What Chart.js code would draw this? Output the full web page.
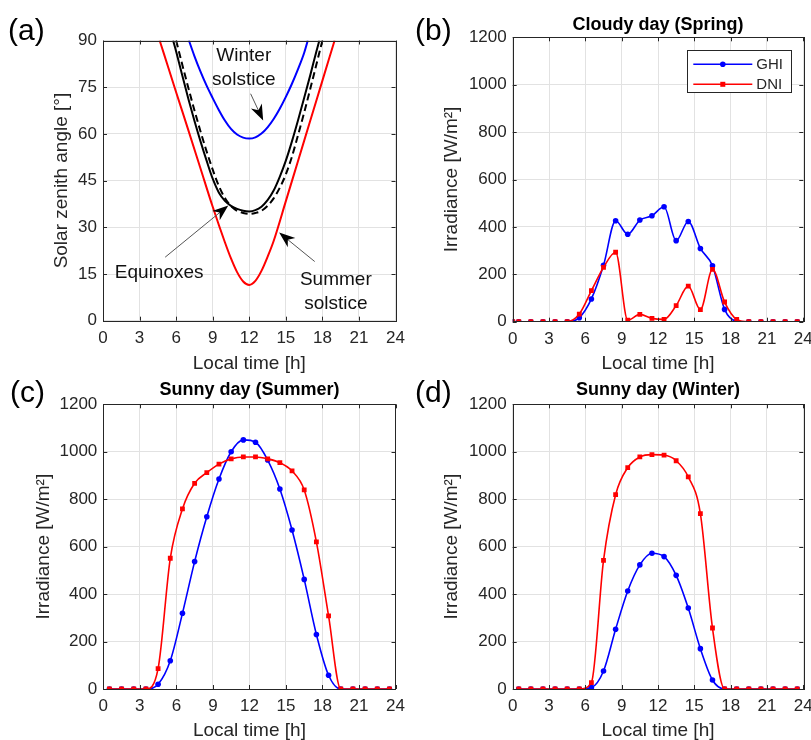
<!DOCTYPE html>
<html>
<head>
<meta charset="utf-8">
<script src="https://cdn.jsdelivr.net/npm/chart.js@4.4.1/dist/chart.umd.min.js"></script>
<style>
  body { margin: 0; background: #fff; }
  #page { position: relative; width: 811px; height: 740px; overflow: hidden; font-family: "Liberation Sans", Arial, sans-serif; }
  canvas { position: absolute; }
  .tag { position: absolute; font-size: 30px; line-height: 30px; color: #000; }
</style>
</head>
<body>
<div id="page">
  <canvas id="chartA" width="412" height="376" style="left:0;top:0"></canvas>
  <canvas id="chartB" width="410" height="376" style="left:412px;top:0"></canvas>
  <canvas id="chartC" width="412" height="370" style="left:0;top:376px"></canvas>
  <canvas id="chartD" width="410" height="370" style="left:412px;top:376px"></canvas>
  <div class="tag" style="left:8px;top:15px">(a)</div>
  <div class="tag" style="left:415px;top:15px">(b)</div>
  <div class="tag" style="left:10px;top:377px">(c)</div>
  <div class="tag" style="left:415px;top:377px">(d)</div>
</div>
<script>
// (a) solar zenith angle [deg] against local time [h]
const SUMMER_HOURS = [4.65, 5, 6, 7, 8, 9, 10, 10.5, 11, 11.5, 12, 12.5, 13, 13.5, 14, 15, 16, 17, 18, 19];
const SUMMER_ZENITH = [90, 85.7, 73.4, 61.2, 48.9, 36.6, 25.2, 20, 15.6, 12.6, 11.5, 12.8, 16, 20.5, 25.6, 38.4, 51.3, 64.2, 77.1, 90];

const WINTER_HOURS = [7.05, 7.5, 8, 8.5, 9, 9.5, 10, 10.5, 11, 11.5, 12, 12.5, 13, 13.5, 14, 14.5, 15, 15.5, 16, 16.5, 16.8];
const WINTER_ZENITH = [90, 85, 80, 75.5, 71.5, 67.7, 64.3, 61.6, 59.8, 58.8, 58.5, 58.9, 60.1, 62.1, 64.8, 68.1, 71.9, 76.1, 80.8, 86, 90];

const EQUINOX_HOURS = [5.75, 6, 6.5, 7, 7.5, 8, 8.5, 9, 9.5, 10, 10.5, 11, 11.5, 12, 12.5, 13, 13.5, 14, 14.5, 15, 15.5, 16, 16.5, 17, 17.5, 17.75];
const EQUINOX_ZENITH = [90, 86.5, 78.8, 71.3, 64.2, 57.6, 51.4, 45.6, 41.2, 38.5, 36.9, 35.9, 35.3, 35.1, 35.5, 36.6, 38.7, 41.8, 46.2, 51.4, 57.6, 64.4, 71.5, 78.8, 86.4, 90];

const EQUINOX2_HOURS = [6, 6.5, 7, 7.5, 8, 8.5, 9, 9.5, 10, 10.5, 11, 11.5, 12, 12.5, 13, 13.5, 14, 14.5, 15, 15.5, 16, 16.5, 17, 17.5, 18];
const EQUINOX2_ZENITH = [90, 82.3, 74.8, 67.6, 60.8, 54.4, 48.5, 43.3, 39.4, 36.8, 35.3, 34.6, 34.3, 34.6, 35.3, 36.9, 39.3, 42.7, 47, 52.7, 59.6, 66.8, 74.4, 82.2, 90];

// (b) cloudy day, spring [W/m2]
const HOURS_B = [0, 0.5, 1.5, 2.5, 3.5, 4.5, 5.5, 6.5, 7.5, 8.5, 9.5, 10.5, 11.5, 12.5, 13.5, 14.5, 15.5, 16.5, 17.5, 18.5, 19.5, 20.5, 21.5, 22.5, 23.5];
const GHI_B = [0, 0, 0, 0, 0, 0, 17, 96, 238, 426, 369, 429, 447, 485, 342, 423, 309, 236, 52, 2, 0, 0, 0, 0, 0];
const DNI_B = [0, 0, 0, 0, 0, 0, 32, 131, 229, 293, 6, 31, 14, 10, 68, 150, 51, 221, 83, 10, 0, 0, 0, 0, 0];

// (c) and (d) sunny days
const HOURS = [0.5, 1.5, 2.5, 3.5, 4.5, 5.5, 6.5, 7.5, 8.5, 9.5, 10.5, 11.5, 12.5, 13.5, 14.5, 15.5, 16.5, 17.5, 18.5, 19.5, 20.5, 21.5, 22.5, 23.5];
const GHI_C = [0, 0, 0, 0, 20, 119, 319, 537, 726, 885, 1000, 1050, 1040, 965, 843, 670, 462, 230, 58, 0, 0, 0, 0, 0];
const DNI_C = [0, 0, 0, 0, 86, 551, 759, 867, 912, 948, 970, 978, 978, 970, 954, 919, 839, 620, 308, 0, 0, 0, 0, 0];
const GHI_D = [0, 0, 0, 0, 0, 0, 6, 76, 252, 413, 523, 572, 558, 479, 341, 170, 38, 0, 0, 0, 0, 0, 0, 0];
const DNI_D = [0, 0, 0, 0, 0, 0, 27, 542, 819, 933, 978, 988, 986, 962, 894, 739, 257, 0, 0, 0, 0, 0, 0, 0];

// text + arrows of panel (a), in data units
const ANNOTATIONS = [
  { lines: ['Winter', 'solstice'], x: 11.55, y: 83.3, tail: [12.11, 72.9], tip: [13.14, 64.3] },
  { lines: ['Equinoxes'], x: 4.61, y: 13.7, tail: [5.1, 20.4], tip: [10.28, 37.0] },
  { lines: ['Summer', 'solstice'], x: 19.1, y: 11.5, tail: [17.37, 19.0], tip: [14.45, 28.3] }
];

const FONT = '"Liberation Sans", Arial, sans-serif';
const INK = '#262626';
const GRID = '#e2e2e2';

const toPoints = (xs, ys) => xs.map((x, i) => ({ x: x, y: ys[i] }));

// matlab style box with inward ticks
const boxPlugin = {
  id: 'box',
  afterDatasetsDraw(chart) {
    const { ctx, chartArea: a, scales: { x, y } } = chart;
    ctx.save();
    ctx.strokeStyle = INK;
    ctx.lineWidth = 1;
    ctx.beginPath();
    x.ticks.forEach(t => {
      const px = Math.round(x.getPixelForValue(t.value)) + 0.5;
      ctx.moveTo(px, a.bottom); ctx.lineTo(px, a.bottom - 4);
      ctx.moveTo(px, a.top); ctx.lineTo(px, a.top + 4);
    });
    y.ticks.forEach(t => {
      const py = Math.round(y.getPixelForValue(t.value)) + 0.5;
      ctx.moveTo(a.left, py); ctx.lineTo(a.left + 4, py);
      ctx.moveTo(a.right, py); ctx.lineTo(a.right - 4, py);
    });
    ctx.stroke();
    ctx.strokeRect(Math.round(a.left) + 0.5, Math.round(a.top) + 0.5, Math.round(a.width), Math.round(a.height));
    ctx.restore();
  }
};

function drawArrow(ctx, x1, y1, x2, y2) {
  const ang = Math.atan2(y2 - y1, x2 - x1);
  const len = 16, half = 6;
  const cos = Math.cos(ang), sin = Math.sin(ang);
  ctx.strokeStyle = '#555';
  ctx.lineWidth = 1;
  ctx.beginPath();
  ctx.moveTo(x1, y1);
  ctx.lineTo(x2 - cos * len * 0.6, y2 - sin * len * 0.6);
  ctx.stroke();
  const bx = x2 - cos * len, by = y2 - sin * len;
  const nx = x2 - cos * len * 0.7, ny = y2 - sin * len * 0.7;
  ctx.fillStyle = '#000';
  ctx.beginPath();
  ctx.moveTo(x2, y2);
  ctx.lineTo(bx - sin * half, by + cos * half);
  ctx.lineTo(nx, ny);
  ctx.lineTo(bx + sin * half, by - cos * half);
  ctx.closePath();
  ctx.fill();
}

const notesPlugin = {
  id: 'notes',
  afterDraw(chart) {
    const { ctx, scales: { x, y } } = chart;
    ctx.save();
    ANNOTATIONS.forEach(n => {
      drawArrow(ctx, x.getPixelForValue(n.tail[0]), y.getPixelForValue(n.tail[1]),
        x.getPixelForValue(n.tip[0]), y.getPixelForValue(n.tip[1]));
      ctx.fillStyle = '#111';
      ctx.font = '19px ' + FONT;
      ctx.textAlign = 'center';
      ctx.textBaseline = 'alphabetic';
      n.lines.forEach((line, i) => {
        ctx.fillText(line, x.getPixelForValue(n.x), y.getPixelForValue(n.y) + i * 24);
      });
    });
    ctx.restore();
  }
};

const legendPlugin = {
  id: 'legendBox',
  afterDraw(chart) {
    const { ctx, chartArea: a } = chart;
    const w = 104, h = 42;
    const left = a.right - 12 - w, top = a.top + 13;
    ctx.save();
    ctx.fillStyle = '#fff';
    ctx.fillRect(left, top, w, h);
    ctx.strokeStyle = INK;
    ctx.lineWidth = 1;
    ctx.strokeRect(Math.round(left) + 0.5, Math.round(top) + 0.5, w, h);
    chart.data.datasets.forEach((ds, i) => {
      const yy = top + 14 + i * 20;
      ctx.strokeStyle = ds.borderColor;
      ctx.lineWidth = 1.5;
      ctx.beginPath();
      ctx.moveTo(left + 6, yy); ctx.lineTo(left + 65, yy);
      ctx.stroke();
      ctx.fillStyle = ds.borderColor;
      if (ds.pointStyle === 'rect') {
        ctx.fillRect(left + 33, yy - 2.5, 5, 5);
      } else {
        ctx.beginPath();
        ctx.arc(left + 35.5, yy, 2.8, 0, Math.PI * 2);
        ctx.fill();
      }
      ctx.fillStyle = INK;
      ctx.font = '15px ' + FONT;
      ctx.textAlign = 'left';
      ctx.textBaseline = 'middle';
      ctx.fillText(ds.label, left + 69, yy + 1);
    });
    ctx.restore();
  }
};

function xAxis(height, titleBottom) {
  return {
    type: 'linear', min: 0, max: 24,
    ticks: { stepSize: 3, color: INK, font: { size: 17, family: FONT }, padding: 7, maxRotation: 0, autoSkip: false },
    grid: { color: GRID, drawTicks: false },
    border: { display: false },
    title: { display: true, text: 'Local time [h]', color: INK, font: { size: 19, family: FONT }, padding: { top: 0, bottom: titleBottom } },
    afterFit: s => { s.height = height; }
  };
}

function yAxis(max, step, text, width, titleOffset) {
  return {
    min: 0, max: max,
    ticks: { stepSize: step, color: INK, font: { size: 17, family: FONT }, padding: 6, callback: v => String(v) },
    grid: { color: GRID, drawTicks: false },
    border: { display: false },
    title: { display: true, text: text, color: INK, font: { size: 19, family: FONT }, padding: { top: titleOffset, bottom: 0 } },
    afterFit: s => { s.width = width; }
  };
}

function renderZenithChart() {
  const curves = [
    { label: 'Summer solstice', hours: SUMMER_HOURS, values: SUMMER_ZENITH, color: '#ff0000', dash: [] },
    { label: 'Winter solstice', hours: WINTER_HOURS, values: WINTER_ZENITH, color: '#0000ff', dash: [] },
    { label: 'Equinox (Mar)', hours: EQUINOX2_HOURS, values: EQUINOX2_ZENITH, color: '#000000', dash: [7, 4] },
    { label: 'Equinox (Sep)', hours: EQUINOX_HOURS, values: EQUINOX_ZENITH, color: '#000000', dash: [] }
  ];
  new Chart(document.getElementById('chartA'), {
    type: 'line',
    data: {
      datasets: curves.map(c => ({
        label: c.label,
        data: toPoints(c.hours, c.values),
        borderColor: c.color,
        borderWidth: 2,
        borderDash: c.dash,
        pointRadius: 0,
        fill: false,
        cubicInterpolationMode: 'monotone'
      }))
    },
    options: {
      responsive: false, animation: false, devicePixelRatio: 1,
      layout: { padding: { top: 40.5, right: 15, bottom: 0, left: 0 } },
      plugins: { legend: { display: false }, tooltip: { enabled: false } },
      scales: {
        x: xAxis(55.3, 0.6),
        y: yAxis(90, 15, 'Solar zenith angle [°]', 103, 50.3)
      }
    },
    plugins: [boxPlugin, notesPlugin]
  });
}

function renderIrradianceChart(id, hours, ghi, dni, title, opts, extra) {
  new Chart(document.getElementById(id), {
    type: 'line',
    data: {
      datasets: [
        { label: 'GHI', data: toPoints(hours, ghi), borderColor: '#0000ff', backgroundColor: '#0000ff',
          borderWidth: 1.6, pointRadius: 2.8, pointStyle: 'circle', pointBorderWidth: 0,
          cubicInterpolationMode: 'monotone', fill: false, order: 2 },
        { label: 'DNI', data: toPoints(hours, dni), borderColor: '#ff0000', backgroundColor: '#ff0000',
          borderWidth: 1.6, pointRadius: 3.4, pointStyle: 'rect', pointBorderWidth: 0,
          cubicInterpolationMode: 'monotone', fill: false, order: 1 }
      ]
    },
    options: {
      responsive: false, animation: false, devicePixelRatio: 1,
      layout: { padding: { top: 0, right: opts.right, bottom: 0, left: 0 } },
      plugins: {
        legend: { display: false },
        tooltip: { enabled: false },
        title: {
          display: true, text: title, fullSize: false, color: '#000',
          font: { size: 18, weight: 'bold', family: FONT },
          padding: { top: opts.titleTop, bottom: opts.titleBottom }
        }
      },
      scales: {
        x: xAxis(opts.xHeight, opts.xTitleBottom),
        y: yAxis(1200, 200, 'Irradiance [W/m²]', opts.yWidth, opts.yTitle)
      }
    },
    plugins: [boxPlugin].concat(extra)
  });
}

document.addEventListener('DOMContentLoaded', function () {
  renderZenithChart();
  renderIrradianceChart('chartB', HOURS_B, GHI_B, DNI_B, 'Cloudy day (Spring)',
    { right: 18.7, titleTop: 14, titleBottom: 1.7, xHeight: 54.3, xTitleBottom: 0.6, yWidth: 100.7, yTitle: 28.3 }, [legendPlugin]);
  renderIrradianceChart('chartC', HOURS, GHI_C, DNI_C, 'Sunny day (Summer)',
    { right: 16, titleTop: 3.2, titleBottom: 3.5, xHeight: 57, xTitleBottom: 3.6, yWidth: 103.3, yTitle: 31.9 }, []);
  renderIrradianceChart('chartD', HOURS, GHI_D, DNI_D, 'Sunny day (Winter)',
    { right: 18.7, titleTop: 3.2, titleBottom: 3.5, xHeight: 57, xTitleBottom: 3.6, yWidth: 100.7, yTitle: 28.3 }, []);
});
</script>
</body>
</html>
